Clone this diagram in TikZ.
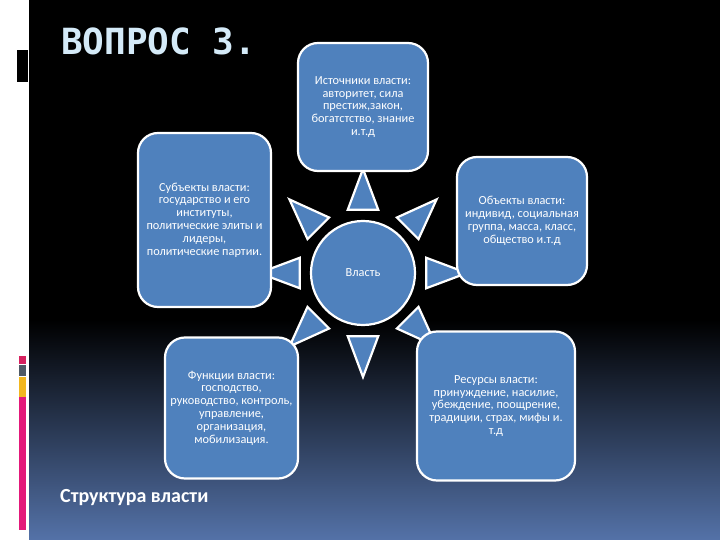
\documentclass[tikz,border=0pt]{standalone}
\usepackage{fontspec}
\setmainfont{Carlito}
\newfontfamily\naslovfont{DejaVu Sans Mono}
\usepackage{tikz}

\definecolor{modra}{HTML}{4F81BD}
\definecolor{naslov}{HTML}{D4EAF8}
\definecolor{ozadje}{RGB}{84,114,168}
\definecolor{rdeca}{HTML}{D6215F}
\definecolor{siva}{HTML}{4F5A66}
\definecolor{rumena}{HTML}{F2B71F}
\definecolor{roza}{HTML}{E3197A}

\tikzset{
  okvir/.style={draw=white, line width=2.2pt, fill=modra, rounded corners=20pt,
    text=white, align=center, inner sep=2pt, font=\fontsize{12.3}{12.8}\selectfont},
  kolo/.style={circle, draw=white, line width=2.2pt, fill=modra, text=white,
    minimum size=104pt, font=\fontsize{12.3}{12.8}\selectfont},
  zarek/.style={draw=white, line width=2.2pt, fill=modra, line join=miter}
}

\begin{document}
\begin{tikzpicture}[x=1pt,y=-1pt]
\useasboundingbox (0,0) rectangle (720,540);

% ozadje
\fill[white] (0,0) rectangle (720,540);
\fill[black] (29,0) rectangle (720,320);
\shade[top color=black, bottom color=ozadje] (29,320) rectangle (720,540);
\fill[black] (17,50) rectangle (28,82);
\fill[rdeca] (19,356) rectangle (26,364);
\fill[siva] (19,365) rectangle (26,376);
\fill[rumena] (19,377) rectangle (26,397);
\fill[roza] (19,397) rectangle (26,530);

\coordinate (sredina) at (363,273);

\node[anchor=base west, inner sep=0pt, text=naslov,
  font=\naslovfont\bfseries\fontsize{36}{40}\selectfont] (naslov) at (61,55) {ВОПРОС 3.};

% zarki
\foreach \kot in {0,45,...,315}
\draw[zarek, shift={(sredina)}] (\kot:104) -- (\kot+13.6:65) -- (\kot-13.6:65) -- cycle;

\node[kolo] (moc) at (sredina) {Власть};

\node[okvir, minimum width=130pt, minimum height=128pt] (viri) at (363,107)
  {Источники власти:\\ авторитет, сила\\ престиж,закон,\\ богатстство, знание\\ и.т.д};
\node[okvir, minimum width=133pt, minimum height=174pt] (subjekti) at (204.5,220)
  {Субъекты власти:\\ государство и его\\ институты,\\ политические элиты и\\ лидеры,\\ политические партии.};
\node[okvir, minimum width=130pt, minimum height=128pt] (objekti) at (522,221)
  {Объекты власти:\\ индивид, социальная\\ группа, масса, класс,\\ общество и.т.д};
\node[okvir, minimum width=133pt, minimum height=141pt] (funkcije) at (231.5,408)
  {Функции власти:\\ господство,\\ руководство, контроль,\\ управление,\\ организация,\\ мобилизация.};
\node[okvir, minimum width=158pt, minimum height=149pt] (viri2) at (496,406)
  {Ресурсы власти:\\ принуждение, насилие,\\ убеждение, поощрение,\\ традиции, страх, мифы и.\\ т.д};

\node[anchor=base west, inner sep=0pt, text=white,
  font=\bfseries\fontsize{20}{22}\selectfont] (podnaslov) at (60,502) {Структура власти};
\end{tikzpicture}
\end{document}
